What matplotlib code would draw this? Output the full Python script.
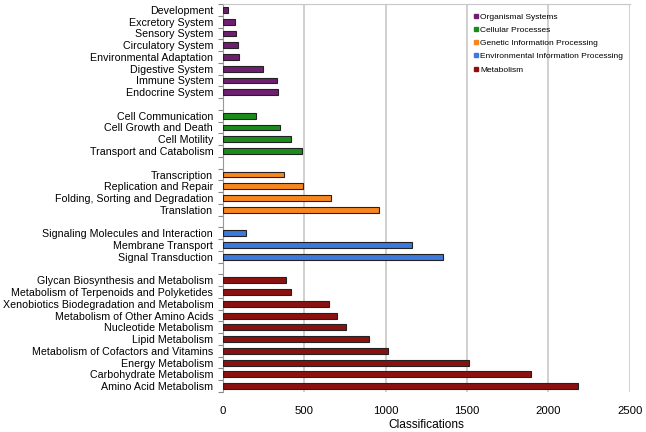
import matplotlib
matplotlib.use('Agg')
import matplotlib.pyplot as plt
from matplotlib.lines import Line2D

plt.rcParams['font.family'] = ['Liberation Sans', 'DejaVu Sans']

# groups listed bottom-up, the way they sit on the axis
metabolism_labels = ['Amino Acid Metabolism', 'Carbohydrate Metabolism', 'Energy Metabolism',
                     'Metabolism of Cofactors and Vitamins', 'Lipid Metabolism', 'Nucleotide Metabolism',
                     'Metabolism of Other Amino Acids', 'Xenobiotics Biodegradation and Metabolism',
                     'Metabolism of Terpenoids and Polyketides', 'Glycan Biosynthesis and Metabolism']
metabolism_values = [2183, 1895, 1514, 1012, 895, 759, 704, 650, 420, 389]

environmental_labels = ['Signal Transduction', 'Membrane Transport', 'Signaling Molecules and Interaction']
environmental_values = [1351, 1163, 141]

genetic_labels = ['Translation', 'Folding, Sorting and Degradation', 'Replication and Repair', 'Transcription']
genetic_values = [958, 663, 494, 375]

cellular_labels = ['Transport and Catabolism', 'Cell Motility', 'Cell Growth and Death', 'Cell Communication']
cellular_values = [484, 418, 348, 206]

organismal_labels = ['Endocrine System', 'Immune System', 'Digestive System', 'Environmental Adaptation',
                     'Circulatory System', 'Sensory System', 'Excretory System', 'Development']
organismal_values = [341, 331, 245, 102, 91, 78, 72, 31]

groups = [
    ('Metabolism', metabolism_labels, metabolism_values, '#8b1111'),
    ('Environmental Information Processing', environmental_labels, environmental_values, '#3d78dc'),
    ('Genetic Information Processing', genetic_labels, genetic_values, '#f7861e'),
    ('Cellular Processes', cellular_labels, cellular_values, '#1b8c1b'),
    ('Organismal Systems', organismal_labels, organismal_values, '#6e1f70'),
]

fig = plt.figure(figsize=(6.46, 4.32), dpi=100)
ax = fig.add_axes([0.345, 0.0926, 0.63, 0.898])

pos = 0
ytick_pos = []
ytick_lab = []
for name, labels, values, color in groups:
    ys = list(range(pos, pos + len(labels)))
    ax.barh(ys, values, height=0.5, color=color, edgecolor='#222222', linewidth=0.8, zorder=3)
    ytick_pos += ys
    ytick_lab += labels
    pos += len(labels) + 1  # blank row between groups
n_rows = pos - 1

ax.set_ylim(-0.5, n_rows - 0.5)
ax.set_xlim(0, 2500)
ax.set_yticks(ytick_pos)
ax.set_yticklabels(ytick_lab, fontsize=7.7)
ax.set_yticks([k - 0.5 for k in range(n_rows + 1)], minor=True)
ax.tick_params(axis='y', which='major', length=0, pad=7)
ax.tick_params(axis='y', which='minor', length=3.5, color='#888888', width=0.8)

ax.set_xticks([0, 500, 1000, 1500, 2000, 2500])
ax.tick_params(axis='x', length=0, pad=10, labelsize=8.2)
ax.set_xlabel('Classifications', fontsize=8.6, labelpad=2)
ax.grid(axis='x', color='#c8c8c8', linewidth=1.2, zorder=0)

ax.spines['right'].set_visible(False)
ax.spines['bottom'].set_visible(False)
ax.spines['top'].set_color('#c8c8c8')
ax.spines['left'].set_color('#999999')

handles = [Line2D([], [], marker='s', linestyle='', markersize=3, color=g[3]) for g in groups[::-1]]
names = [g[0] for g in groups[::-1]]
ax.legend(handles, names, loc='upper left', bbox_to_anchor=(0.6, 0.995), frameon=False,
          fontsize=6.0, handlelength=0.5, handletextpad=0.3, labelspacing=0.65, borderpad=0.3)

fig.savefig('out.png', dpi=100)
